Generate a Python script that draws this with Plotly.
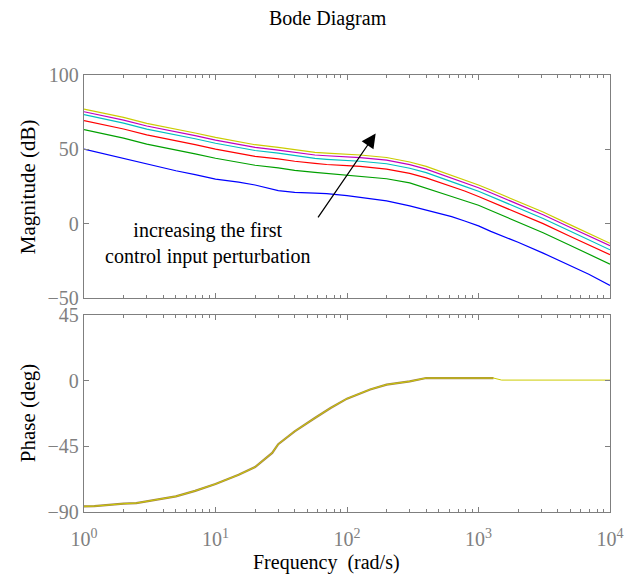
import plotly.graph_objects as go

# Frequency grid (rad/s)
freq = [1, 1.5, 2, 3, 5, 7, 10, 15, 20, 30, 40, 57, 70, 100, 126, 200, 300, 400, 500,
        625, 785, 1000, 1240, 2000, 3100, 5000, 6900, 10000]

# Magnitude (dB) for each perturbation level (blue -> yellow increasing)
mag_blue = [50.2, 46.5, 43.5, 40.0, 35.6, 33.0, 30.0, 28.0, 26.0, 22.2, 21.0, 20.5, 20.2, 18.8,
            17.5, 15.3, 12.0, 9.3, 7.0, 4.7, 1.8, -1.5, -5.2, -12.5, -19.8, -28.5, -34.0, -41.5]
mag_green = [63.2, 60.0, 57.5, 53.5, 49.8, 47.0, 44.0, 41.0, 39.3, 37.5, 35.9, 34.5, 33.8, 32.3,
             31.8, 30.2, 27.4, 24.0, 21.3, 18.3, 15.4, 12.4, 8.9, 1.0, -6.1, -14.7, -20.4, -27.2]
mag_red = [69.3, 66.2, 63.7, 59.7, 56.0, 53.2, 50.2, 47.2, 45.3, 43.6, 42.0, 40.6, 39.8, 39.0,
           38.5, 36.7, 33.8, 30.8, 28.0, 25.0, 22.0, 18.3, 14.9, 7.0, 0.0, -8.6, -14.2, -20.8]
mag_cyan = [73.3, 70.1, 67.6, 63.6, 59.8, 57.1, 54.1, 51.1, 49.2, 47.4, 45.8, 43.9, 43.3, 42.4,
            42.0, 40.3, 37.3, 34.3, 31.4, 28.2, 25.1, 21.8, 18.4, 10.5, 3.5, -5.1, -10.7, -17.6]
mag_magenta = [75.3, 72.2, 69.7, 65.7, 61.9, 59.2, 56.2, 53.2, 51.3, 49.5, 48.0, 46.2, 45.7, 44.9,
               44.4, 42.7, 39.7, 36.7, 33.7, 30.5, 27.4, 24.2, 20.8, 13.0, 6.0, -2.6, -8.1, -14.8]
mag_yellow = [77.1, 74.0, 71.5, 67.5, 63.7, 61.0, 58.0, 55.0, 53.1, 51.3, 49.8, 48.0, 47.5, 46.7,
              46.2, 44.5, 41.5, 38.5, 35.5, 32.3, 29.3, 26.0, 22.6, 14.8, 7.8, -0.8, -6.4, -13.2]

# Phase (deg), identical for all levels
phase_freq = [1, 1.2, 2, 2.5, 5, 7, 10, 15, 20, 27, 30, 40, 57, 75, 100, 150, 200, 300,
              400, 700, 1000, 1300, 1500, 3000, 10000]
phase_deg = [-86.1, -86.0, -84.3, -83.9, -79.3, -75.5, -70.8, -64.5, -59.2, -49.5, -43.5,
             -34.7, -25.6, -18.7, -12.3, -6.0, -2.7, -0.5, 1.8, 1.8, 1.8, 1.8, 0.4, 0.4, 0.4]

series = [("blue", mag_blue, "#0000ff"), ("green", mag_green, "#00a000"),
          ("red", mag_red, "#ff0000"), ("cyan", mag_cyan, "#00c0c0"),
          ("magenta", mag_magenta, "#c000c0"), ("yellow", mag_yellow, "#cccc00")]

mag_ticks = [-50, 0, 50, 100]
phase_ticks = [-90, -45, 0, 45]
x_tickvals = [1, 10, 100, 1000, 10000]
x_ticktext = ["10<sup>0</sup>", "10<sup>1</sup>", "10<sup>2</sup>", "10<sup>3</sup>", "10<sup>4</sup>"]
minor_vals = [m * 10 ** d for d in range(4) for m in range(2, 10)]

W, H = 636, 574
ml, mr, mt, mb = 84, 14, 75, 62
ph = H - mt - mb
pw = W - ml - mr

fig = go.Figure()
for name, mag, col in series:
    fig.add_trace(go.Scatter(x=freq, y=mag, mode="lines", line=dict(color=col, width=1.2),
                             xaxis="x", yaxis="y", showlegend=False, name=name))

# phase: shared curve (overlapping lines appear brownish), yellow on top
pf_under = [f for f in phase_freq if f <= 1300]
pd_under = phase_deg[:len(pf_under)]
fig.add_trace(go.Scatter(x=pf_under, y=pd_under, mode="lines",
                         line=dict(color="#a4844c", width=2.2),
                         xaxis="x2", yaxis="y2", showlegend=False))
fig.add_trace(go.Scatter(x=phase_freq, y=phase_deg, mode="lines",
                         line=dict(color="#cccc00", width=1),
                         xaxis="x2", yaxis="y2", showlegend=False))

axis_col = "#7f7f7f"
tick_font = dict(family="Liberation Serif", size=20, color="#808080")
common_x = dict(type="log", range=[0, 4], showgrid=False, zeroline=False,
                showline=True, linecolor=axis_col, linewidth=1.3, mirror="ticks",
                ticks="inside", ticklen=5, tickcolor=axis_col,
                tickvals=x_tickvals, ticktext=x_ticktext, tickfont=tick_font,
                minor=dict(ticks="inside", ticklen=3, tickcolor=axis_col, tickvals=minor_vals))
common_y = dict(showgrid=False, zeroline=False, showline=True, linecolor=axis_col,
                linewidth=1.3, mirror="ticks", ticks="inside", ticklen=5, tickcolor=axis_col,
                tickfont=tick_font)

top_lo = (H - mb - 298) / ph
bot_hi = (H - mb - 315) / ph

fig.update_layout(
    width=W, height=H, margin=dict(l=ml, r=mr, t=mt, b=mb),
    plot_bgcolor="white", paper_bgcolor="white",
    xaxis=dict(common_x, domain=[0, 1], anchor="y", showticklabels=False),
    yaxis=dict(common_y, domain=[top_lo, 1], anchor="x", range=[-50, 100],
               tickvals=mag_ticks),
    xaxis2=dict(common_x, domain=[0, 1], anchor="y2", showticklabels=True,
                ticklabelstandoff=9),
    yaxis2=dict(common_y, domain=[0, bot_hi], anchor="x2", range=[-90, 45],
                tickvals=phase_ticks),
    font=dict(family="Liberation Serif", color="black"),
)

ann = [
    dict(text="Bode Diagram", x=(334 - ml) / pw, y=(H - mb - 19) / ph, xref="paper", yref="paper",
         showarrow=False, font=dict(size=20), xanchor="center", yanchor="middle"),
    dict(text="Magnitude (dB)", x=(27 - ml) / pw, y=(H - mb - 187) / ph,
         xref="paper", yref="paper", textangle=-90, showarrow=False,
         font=dict(size=21), xanchor="center", yanchor="middle"),
    dict(text="Phase (deg)", x=(27 - ml) / pw, y=(H - mb - 413) / ph,
         xref="paper", yref="paper", textangle=-90, showarrow=False,
         font=dict(size=21), xanchor="center", yanchor="middle"),
    dict(text="Frequency  (rad/s)", x=(332 - ml) / pw, y=(H - mb - 562) / ph,
         xref="paper", yref="paper", showarrow=False,
         font=dict(size=20), xanchor="center", yanchor="middle"),
    dict(text="increasing the first<br>control input perturbation",
         x=(211 - ml) / pw, y=(H - mb - 243) / ph, xref="paper", yref="paper",
         showarrow=False, font=dict(size=20), align="center",
         xanchor="center", yanchor="middle"),
    dict(text="", x=2.218, y=60.7, ax=1.772, ay=3.2, xref="x", yref="y",
         axref="x", ayref="y", showarrow=True, arrowhead=2, arrowsize=2.2,
         arrowwidth=1.3, arrowcolor="black", standoff=0),
]
fig.update_layout(annotations=ann)

fig.write_html("out.html")
